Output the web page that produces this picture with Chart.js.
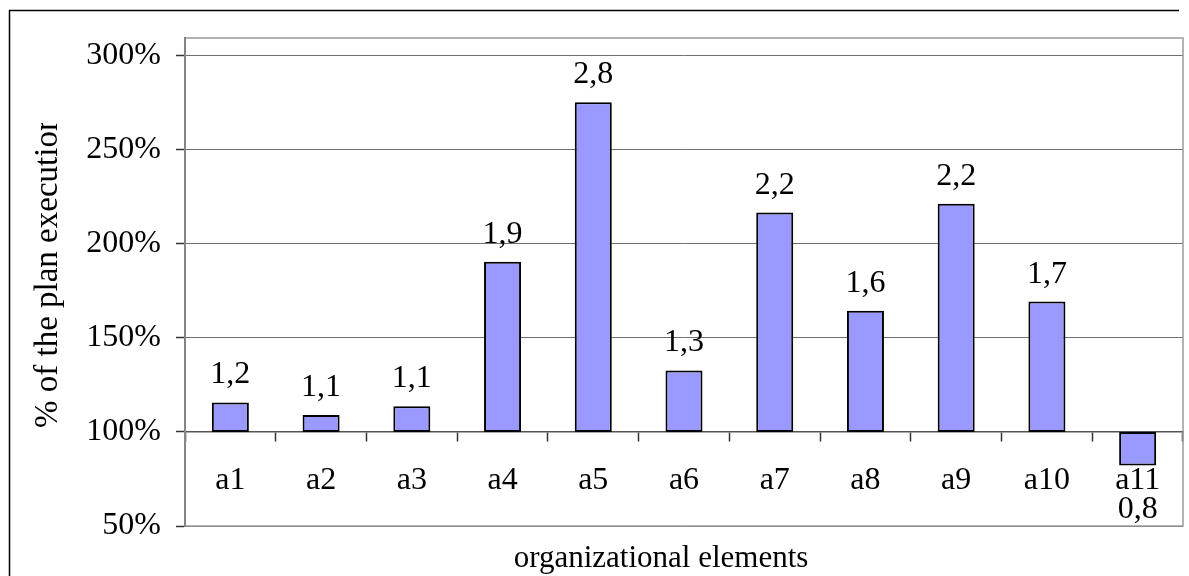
<!DOCTYPE html>
<html>
<head>
<meta charset="utf-8">
<script src="https://cdn.jsdelivr.net/npm/chart.js@4/dist/chart.umd.min.js"></script>
<style>
  html, body { margin: 0; padding: 0; background: #ffffff; }
  #wrap { width: 1189px; height: 576px; position: relative; }
</style>
</head>
<body>
<div id="wrap"><canvas id="chart" width="1189" height="576"></canvas></div>
<script>
// Plan execution per organizational element, in percent (bars grow from the 100% line)
const categories = ['a1', 'a2', 'a3', 'a4', 'a5', 'a6', 'a7', 'a8', 'a9', 'a10', 'a11'];
const planExecution = [115.7, 109.0, 113.6, 190.4, 275.2, 132.7, 216.6, 164.4, 221.3, 169.3, 82.1];
const yTickValues = [50, 100, 150, 200, 250, 300];
const baseValue = 100;
const xTitle = 'organizational elements';
const yTitle = '% of the plan execution';

const SERIF = '"Liberation Serif", "Times New Roman", serif';

// Ratio label above/below each bar, e.g. 1,2
function ratioLabel(v) {
  return (v / 100).toFixed(1).replace('.', ',');
}

const framePlugin = {
  id: 'frame',
  beforeDraw(chart) {
    const ctx = chart.ctx;
    ctx.save();
    ctx.fillStyle = '#ffffff';
    ctx.fillRect(0, 0, chart.width, chart.height);
    // outer frame: top and left edges
    ctx.strokeStyle = '#000000';
    ctx.lineWidth = 1.5;
    ctx.beginPath();
    ctx.moveTo(9.5, 576);
    ctx.lineTo(9.5, 10.5);
    ctx.lineTo(1179, 10.5);
    ctx.stroke();
    ctx.restore();
  },
  beforeDatasetsDraw(chart) {
    const { ctx, chartArea: a } = chart;
    ctx.save();
    ctx.strokeStyle = '#9a9a9a';
    ctx.lineWidth = 1.5;
    ctx.strokeRect(a.left, a.top, a.right - a.left, a.bottom - a.top);
    ctx.restore();
  },
  afterDatasetsDraw(chart) {
    const ctx = chart.ctx;
    const meta = chart.getDatasetMeta(0);
    const yScale = chart.scales.y;
    ctx.save();
    ctx.font = '32px ' + SERIF;
    ctx.fillStyle = '#000000';
    ctx.textAlign = 'center';
    ctx.textBaseline = 'alphabetic';
    meta.data.forEach((bar, i) => {
      const v = planExecution[i];
      const x = bar.getProps(['x'], true).x;
      const end = yScale.getPixelForValue(v);
      const ty = v >= baseValue ? end - 19 : end + 52;
      ctx.fillText(ratioLabel(v), x, ty);
    });
    ctx.restore();
  },
  afterDraw(chart) {
    const ctx = chart.ctx;
    ctx.save();
    ctx.fillStyle = '#000000';
    // x axis title
    ctx.font = '31px ' + SERIF;
    ctx.textAlign = 'center';
    ctx.textBaseline = 'alphabetic';
    ctx.fillText(xTitle, 661, 567);
    // y axis title, rotated, clipped at the top
    ctx.beginPath();
    ctx.rect(0, 123, 180, 453);
    ctx.clip();
    ctx.translate(56.5, 428);
    ctx.rotate(-Math.PI / 2);
    ctx.font = '33px ' + SERIF;
    ctx.textAlign = 'left';
    ctx.fillText(yTitle, 0, 0);
    ctx.restore();
  }
};

new Chart(document.getElementById('chart'), {
  type: 'bar',
  data: {
    labels: categories,
    datasets: [{
      data: planExecution.map(v => [baseValue, v]),
      backgroundColor: '#9999ff',
      borderColor: '#000000',
      borderWidth: 2,
      borderSkipped: false,
      barPercentage: 0.408,
      categoryPercentage: 1.0
    }]
  },
  options: {
    responsive: false,
    devicePixelRatio: 1,
    animation: false,
    layout: { padding: { left: 0, right: 6, top: 38, bottom: 50 } },
    plugins: {
      legend: { display: false },
      tooltip: { enabled: false },
      title: { display: false }
    },
    scales: {
      y: {
        type: 'linear',
        position: 'left',
        min: 50,
        max: 309.4,
        afterBuildTicks(scale) {
          scale.ticks = yTickValues.map(v => ({ value: v }));
        },
        afterFit(scale) {
          scale.width = 185;
        },
        ticks: {
          color: '#000000',
          font: { family: SERIF, size: 32 },
          padding: 15,
          callback: v => v + '%'
        },
        grid: {
          color: '#707070',
          lineWidth: 1,
          drawTicks: true,
          tickLength: 9,
          tickColor: '#333333',
          tickWidth: 1.5
        },
        border: { display: true, color: '#444444', width: 2 }
      },
      x: {
        type: 'category',
        position: { y: baseValue },
        offset: true,
        ticks: {
          color: '#000000',
          font: { family: SERIF, size: 32 },
          padding: 20,
          maxRotation: 0,
          autoSkip: false
        },
        grid: {
          offset: true,
          drawOnChartArea: false,
          drawTicks: true,
          tickLength: 9,
          tickColor: '#333333',
          tickWidth: 1.5
        },
        border: { display: true, color: '#555555', width: 1.5 }
      }
    }
  },
  plugins: [framePlugin]
});
</script>
</body>
</html>
